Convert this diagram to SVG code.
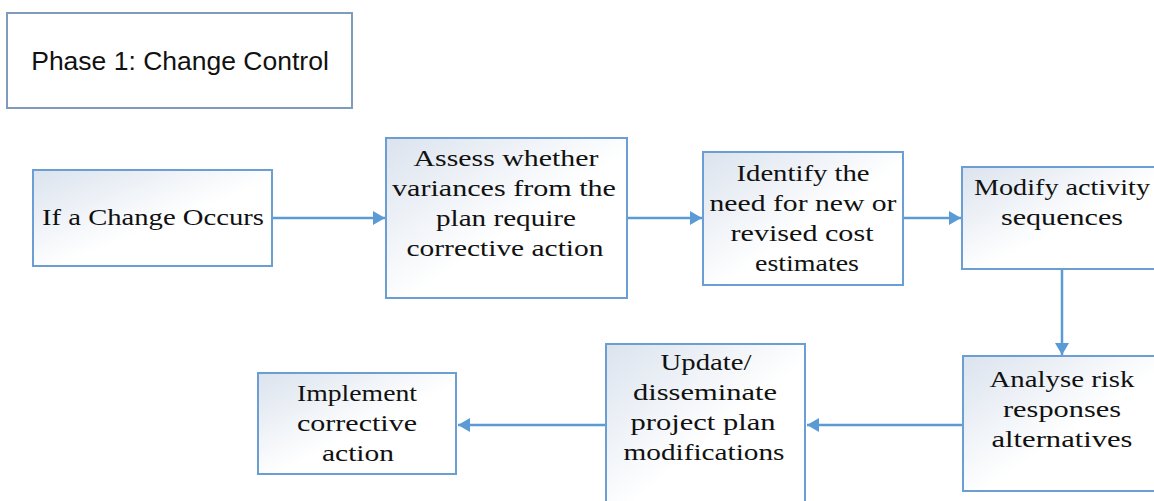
<svg xmlns="http://www.w3.org/2000/svg" width="1154" height="501" viewBox="0 0 1154 501">
<style>
.box{fill:url(#g);stroke:#6b9fd3;stroke-width:2}
.t{font-family:"Liberation Serif","Times New Roman",serif;font-size:24px;fill:#111;text-anchor:middle}
.ln{stroke:#5b9bd5;stroke-width:2.5;fill:none;marker-end:url(#ah)}
</style>
<defs>
<linearGradient id="g" x1="0" y1="0" x2="1" y2="1">
<stop offset="0" stop-color="#dbe3ee"/>
<stop offset="0.55" stop-color="#ffffff"/>
<stop offset="1" stop-color="#ffffff"/>
</linearGradient>
<marker id="ah" viewBox="0 0 12 14" refX="12" refY="7" markerWidth="12" markerHeight="14" markerUnits="userSpaceOnUse" orient="auto">
<path d="M0,0 L12,7 L0,14 Z" fill="#5b9bd5"/>
</marker>
</defs>
<rect width="1154" height="501" fill="#fff"/>
<g id="phase">
<rect x="7" y="13" width="345" height="95" fill="#fff" stroke="#7f9cbd" stroke-width="2"/>
<text x="180" y="70" font-family="'Liberation Sans',Arial,sans-serif" font-size="26.5" fill="#111" text-anchor="middle">Phase 1: Change Control</text>
</g>
<g id="connectors">
<path class="ln" d="M272,218 H385"/>
<path class="ln" d="M627,218 H702"/>
<path class="ln" d="M903,218 H961"/>
<path class="ln" d="M1062,269 V355"/>
<path class="ln" d="M963,425 H807"/>
<path class="ln" d="M606,425 H458"/>
</g>
<g id="n1">
<rect class="box" x="33" y="170" width="239" height="96"/>
<text class="t" x="153" y="225" textLength="222" lengthAdjust="spacingAndGlyphs">If a Change Occurs</text>
</g>
<g id="n2">
<rect class="box" x="386" y="138" width="241" height="160"/>
<text class="t" x="506" y="166" textLength="185" lengthAdjust="spacingAndGlyphs">Assess whether</text>
<text class="t" x="504" y="196" textLength="224" lengthAdjust="spacingAndGlyphs">variances from the</text>
<text class="t" x="506" y="226" textLength="140" lengthAdjust="spacingAndGlyphs">plan require</text>
<text class="t" x="505" y="256" textLength="197" lengthAdjust="spacingAndGlyphs">corrective action</text>
</g>
<g id="n3">
<rect class="box" x="703" y="152" width="200" height="133"/>
<text class="t" x="803" y="181" textLength="133" lengthAdjust="spacingAndGlyphs">Identify the</text>
<text class="t" x="803" y="211" textLength="187" lengthAdjust="spacingAndGlyphs">need for new or</text>
<text class="t" x="802" y="241" textLength="143" lengthAdjust="spacingAndGlyphs">revised cost</text>
<text class="t" x="807" y="271" textLength="104" lengthAdjust="spacingAndGlyphs">estimates</text>
</g>
<g id="n4">
<rect class="box" x="962" y="167" width="200" height="102"/>
<text class="t" x="1062" y="195" textLength="176" lengthAdjust="spacingAndGlyphs">Modify activity</text>
<text class="t" x="1062" y="225" textLength="122" lengthAdjust="spacingAndGlyphs">sequences</text>
</g>
<g id="n5">
<rect class="box" x="963" y="356" width="200" height="135"/>
<text class="t" x="1062" y="387" textLength="145" lengthAdjust="spacingAndGlyphs">Analyse risk</text>
<text class="t" x="1062" y="417" textLength="118" lengthAdjust="spacingAndGlyphs">responses</text>
<text class="t" x="1062" y="447" textLength="141" lengthAdjust="spacingAndGlyphs">alternatives</text>
</g>
<g id="n6">
<rect class="box" x="606" y="344" width="199" height="165"/>
<text class="t" x="706" y="370" textLength="91" lengthAdjust="spacingAndGlyphs">Update/</text>
<text class="t" x="705" y="400" textLength="144" lengthAdjust="spacingAndGlyphs">disseminate</text>
<text class="t" x="703" y="430" textLength="145" lengthAdjust="spacingAndGlyphs">project plan</text>
<text class="t" x="704" y="460" textLength="161" lengthAdjust="spacingAndGlyphs">modifications</text>
</g>
<g id="n7">
<rect class="box" x="258" y="373" width="198" height="101"/>
<text class="t" x="357" y="401" textLength="120" lengthAdjust="spacingAndGlyphs">Implement</text>
<text class="t" x="357" y="431" textLength="120" lengthAdjust="spacingAndGlyphs">corrective</text>
<text class="t" x="358" y="461" textLength="72" lengthAdjust="spacingAndGlyphs">action</text>
</g>
</svg>
